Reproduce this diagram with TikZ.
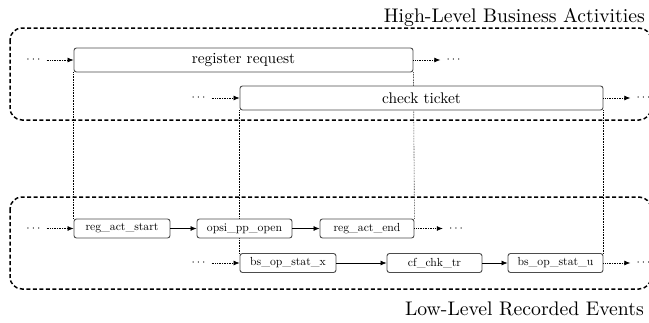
\documentclass[tikz,border=0pt]{standalone}
\usepackage{fontspec}
\setmainfont{lmroman10-regular}[Extension=.otf]
\usetikzlibrary{arrows.meta,backgrounds}
\begin{document}
\begin{tikzpicture}[x=1pt,y=-1pt,
  act/.style={draw=black!70, line width=0.9pt, rounded corners=2.5pt, fill=white, inner sep=0pt,
              minimum height=24pt, font=\fontsize{15.4}{18}\selectfont},
  evt/.style={draw=black!70, line width=0.9pt, rounded corners=2.5pt, fill=white, inner sep=0pt,
              minimum height=19pt, font=\fontsize{11.7}{14}\selectfont},
  grp/.style={draw=black, line width=1.5pt, dash pattern=on 4pt off 2.5pt, rounded corners=12pt},
  flow/.style={-{Latex[length=6pt,width=5pt]}, line width=0.7pt},
  loose/.style={flow, densely dotted},
  link/.style={densely dotted, line width=0.6pt},
  dotsn/.style={inner xsep=6pt, inner ysep=0pt, font=\fontsize{12.5}{14}\selectfont},
  title/.style={anchor=base east, inner sep=0pt, font=\fontsize{19.7}{22}\selectfont},
]
\useasboundingbox (0,0) rectangle (649,322);

% group frames
\draw[grp] (10,28) rectangle (651,120);
\draw[grp] (10,197) rectangle (651,289);

% titles
\node[title] (hl) at (645,22) {High-Level Business Activities};
\node[title] (ll) at (644,315) {Low-Level Recorded Events};

% activities
\node[act, minimum width=339pt] (reg) at (243.5,60) {register request};
\node[act, minimum width=363pt] (chk) at (421.5,98) {check ticket};

% events
\node[evt, minimum width=96pt] (ras) at (122,228.5) {reg\_act\_start};
\node[evt, minimum width=95pt] (opo) at (244.5,228.5) {opsi\_pp\_open};
\node[evt, minimum width=94pt] (rae) at (367,228.5) {reg\_act\_end};
\node[evt, minimum width=96pt] (bsx) at (288,263) {bs\_op\_stat\_x};
\node[evt, minimum width=95pt] (cfc) at (434.5,263) {cf\_chk\_tr};
\node[evt, minimum width=95pt] (bsu) at (555.5,263) {bs\_op\_stat\_u};

% dots
\node[dotsn] (d1) at (33.5,60) {$\cdots$};
\node[dotsn] (d2) at (453.5,60) {$\cdots$};
\node[dotsn] (d3) at (198.5,98) {$\cdots$};
\node[dotsn] (d4) at (643.5,98) {$\cdots$};
\node[dotsn] (d5) at (33.5,228.5) {$\cdots$};
\node[dotsn] (d6) at (456,228.5) {$\cdots$};
\node[dotsn] (d7) at (198.5,263) {$\cdots$};
\node[dotsn] (d8) at (643.5,263) {$\cdots$};

% flows
\draw[loose] (d1) -- (reg);
\draw[loose] (reg) -- (d2);
\draw[loose] (d3) -- (chk);
\draw[loose] (chk) -- (d4);
\draw[loose] (d5) -- (ras);
\draw[flow] (ras) -- (opo);
\draw[flow] (opo) -- (rae);
\draw[loose] (rae) -- (d6);
\draw[loose] (d7) -- (bsx);
\draw[flow] (bsx) -- (cfc);
\draw[flow] (cfc) -- (bsu);
\draw[loose] (bsu) -- (d8);

% vertical links behind the boxes
\begin{scope}[on background layer]
\draw[link] (reg.south west) -- (ras.north west);
\draw[link] (reg.south east) -- (rae.north east);
\draw[link] (chk.south west) -- (bsx.north west);
\draw[link] (chk.south east) -- (bsu.north east);
\end{scope}
\end{tikzpicture}
\end{document}
